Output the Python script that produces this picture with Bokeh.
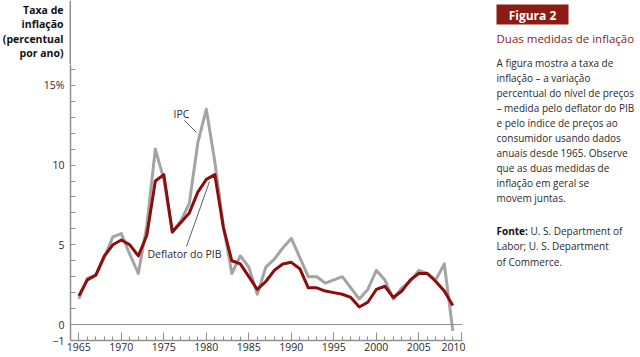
from bokeh.plotting import figure
from bokeh.layouts import row, column
from bokeh.models import FixedTicker, Span, Label, Range1d
from bokeh.core.properties import value
from bokeh.embed import file_html
from bokeh.resources import INLINE

# ---------------- data ----------------
years = list(range(1965, 2010))
ipc = [1.6, 2.9, 3.1, 4.2, 5.5, 5.7, 4.4, 3.2, 6.2, 11.0,
       9.1, 5.8, 6.5, 7.6, 11.4, 13.5, 10.2, 6.2, 3.2, 4.3,
       3.6, 1.9, 3.6, 4.1, 4.8, 5.4, 4.2, 3.0, 3.0, 2.6,
       2.8, 3.0, 2.3, 1.6, 2.2, 3.4, 2.8, 1.6, 2.3, 2.7,
       3.4, 3.2, 2.8, 3.8, -0.4]
deflator = [1.8, 2.8, 3.1, 4.3, 5.0, 5.3, 5.0, 4.3, 5.6, 9.0,
            9.4, 5.8, 6.4, 7.0, 8.3, 9.1, 9.4, 6.1, 4.0, 3.8,
            3.0, 2.2, 2.7, 3.4, 3.8, 3.9, 3.5, 2.3, 2.3, 2.1,
            2.0, 1.9, 1.7, 1.1, 1.4, 2.2, 2.4, 1.7, 2.1, 2.8,
            3.2, 3.2, 2.7, 2.1, 1.2]
x_major_ticks = [1965, 1970, 1975, 1980, 1985, 1990, 1995, 2000, 2005, 2010]
x_minor_ticks = list(range(1965, 2010))
y_ticks = list(range(-1, 17))
y_tick_labels = {-1: "\u22121", 0: "0", 5: "5", 10: "10", 15: "15%"}
y_title = ["Taxa de", "inflação", "(percentual", "por ano)"]
series_labels = ["IPC", "Deflator do PIB"]
panel_tag = "Figura 2"
panel_title = "Duas medidas de inflação"
panel_body = ["A figura mostra a taxa de",
              "inflação  \u2013 a variação",
              "percentual do nível de preços",
              "\u2013 medida pelo deflator do PIB",
              "e pelo índice de preços ao",
              "consumidor usando dados",
              "anuais desde 1965. Observe",
              "que as duas medidas de",
              "inflação em geral se",
              "movem juntas."]
source_head = "Fonte:"
source_lines = ["U. S. Department of", "Labor; U. S. Department", "of Commerce."]

# ---------------- layout constants ----------------
W, H = 640, 357
TOP_H = 64                 # strip above the plot frame (axis title)
LEFT_W = 465               # width of chart column
PANEL_W = W - LEFT_W       # right text panel
L, R, B = 70, 462, 340     # frame left/right/bottom in page px
X0, X1 = 1964.02, 2010.14
PX_PER_UNIT = 15.95
Y0 = -1.0
Y1 = Y0 + (B - TOP_H) / PX_PER_UNIT
FONT = "Open Sans"
RED = "#8c1b13"
GRAY = "#a4a4a4"
AX = "#8f8f8f"
TXT = "#2a2a2a"


def xd(px):
    return X0 + (px - L) * (X1 - X0) / (R - L)


def yd(py):
    return Y0 + (B - py) / PX_PER_UNIT


def bare(fig):
    fig.outline_line_color = None
    fig.xgrid.visible = False
    fig.ygrid.visible = False
    fig.background_fill_color = "white"
    fig.border_fill_color = "white"
    fig.frame_align = False
    return fig


# ---------------- top strip: y axis title ----------------
top = bare(figure(width=LEFT_W, height=TOP_H, x_range=Range1d(0, LEFT_W),
                  y_range=Range1d(TOP_H, 0), output_backend="svg",
                  toolbar_location=None, x_axis_location=None, y_axis_location=None,
                  min_border=0))
top.text(x=[63] * len(y_title), y=[9.5 + 14.3 * i for i in range(len(y_title))],
         text=y_title, text_font=value(FONT), text_font_size="10.5px",
         text_font_style="bold", text_color="#111111", text_align="right",
         text_baseline="middle")
top.segment(x0=[L - 0.25], y0=[0], x1=[L - 0.25], y1=[TOP_H], line_color=AX, line_width=1.5)

# ---------------- main chart ----------------
p = bare(figure(width=LEFT_W, height=H - TOP_H, x_range=Range1d(X0, X1),
                y_range=Range1d(Y0, Y1), output_backend="svg", toolbar_location=None,
                min_border_left=L, min_border_right=LEFT_W - R,
                min_border_top=0, min_border_bottom=H - B))

xa = p.xaxis[0]
xa.ticker = FixedTicker(ticks=x_major_ticks, minor_ticks=x_minor_ticks)
xa.major_tick_in = 8
xa.major_tick_out = 0
xa.minor_tick_in = 4
xa.minor_tick_out = 0
xa.axis_line_color = AX
xa.axis_line_width = 1.5
xa.major_tick_line_color = AX
xa.minor_tick_line_color = AX
xa.major_label_text_font = FONT
xa.major_label_text_font_size = "10.5px"
xa.major_label_text_color = TXT
xa.major_label_standoff = 2

ya = p.yaxis[0]
ya.ticker = FixedTicker(ticks=y_ticks, minor_ticks=[])
ya.major_tick_in = 5
ya.major_tick_out = 0
ya.minor_tick_in = 0
ya.minor_tick_out = 0
ya.minor_tick_line_color = None
ya.axis_line_color = AX
ya.axis_line_width = 1.5
ya.major_tick_line_color = AX
ya.major_label_overrides = {t: y_tick_labels.get(t, "") for t in y_ticks}
ya.major_label_text_font = FONT
ya.major_label_text_font_size = "10.5px"
ya.major_label_text_color = TXT
ya.major_label_standoff = 6

p.add_layout(Span(location=0, dimension="width", line_color=AX, line_width=1))

p.line(years, ipc, line_color=GRAY, line_width=3, line_join="round")
p.line(years, deflator, line_color="#8b0d0d", line_width=3, line_join="round")

p.add_layout(Label(x=xd(181), y=yd(113), text=series_labels[0], text_font=FONT,
                   text_font_size="10.5px", text_color=TXT, text_align="center",
                   text_baseline="middle"))
p.segment(x0=[xd(184)], y0=[yd(120)], x1=[xd(196)], y1=[yd(132)],
          line_color="#333333", line_width=0.8)
p.add_layout(Label(x=xd(184), y=yd(253), text=series_labels[1], text_font=FONT,
                   text_font_size="10.5px", text_color=TXT, text_align="center",
                   text_baseline="middle"))
p.segment(x0=[xd(186)], y0=[yd(246)], x1=[xd(209)], y1=[yd(181)],
          line_color="#333333", line_width=0.8)

# ---------------- right text panel ----------------
panel = bare(figure(width=PANEL_W, height=H, x_range=Range1d(LEFT_W, W),
                    y_range=Range1d(H, 0), output_backend="svg", toolbar_location=None,
                    x_axis_location=None, y_axis_location=None, min_border=0))
panel.quad(left=[496], right=[568], top=[4], bottom=[24], fill_color=RED, line_color=None)
panel.text(x=[532], y=[14.5], text=[panel_tag], text_font=value(FONT),
           text_font_size="12px", text_font_style="bold", text_color="white",
           text_align="center", text_baseline="middle")
panel.text(x=[496], y=[38], text=[panel_title], text_font=value(FONT),
           text_font_size="11.5px", text_color=RED, text_align="left",
           text_baseline="middle")
panel.text(x=[496] * len(panel_body), y=[62 + 15.1 * i for i in range(len(panel_body))],
           text=panel_body, text_font=value(FONT), text_font_size="10px",
           text_color=TXT, text_align="left", text_baseline="middle")
panel.text(x=[496], y=[230], text=[source_head], text_font=value(FONT),
           text_font_size="10px", text_font_style="bold", text_color="#111111",
           text_align="left", text_baseline="middle")
panel.text(x=[530, 496, 496], y=[230 + 15.6 * i for i in range(len(source_lines))],
           text=source_lines, text_font=value(FONT), text_font_size="10px",
           text_color=TXT, text_align="left", text_baseline="middle")

layout = row(column(top, p, spacing=0), panel, spacing=0)
open("out.html", "w").write(file_html(layout, INLINE))
